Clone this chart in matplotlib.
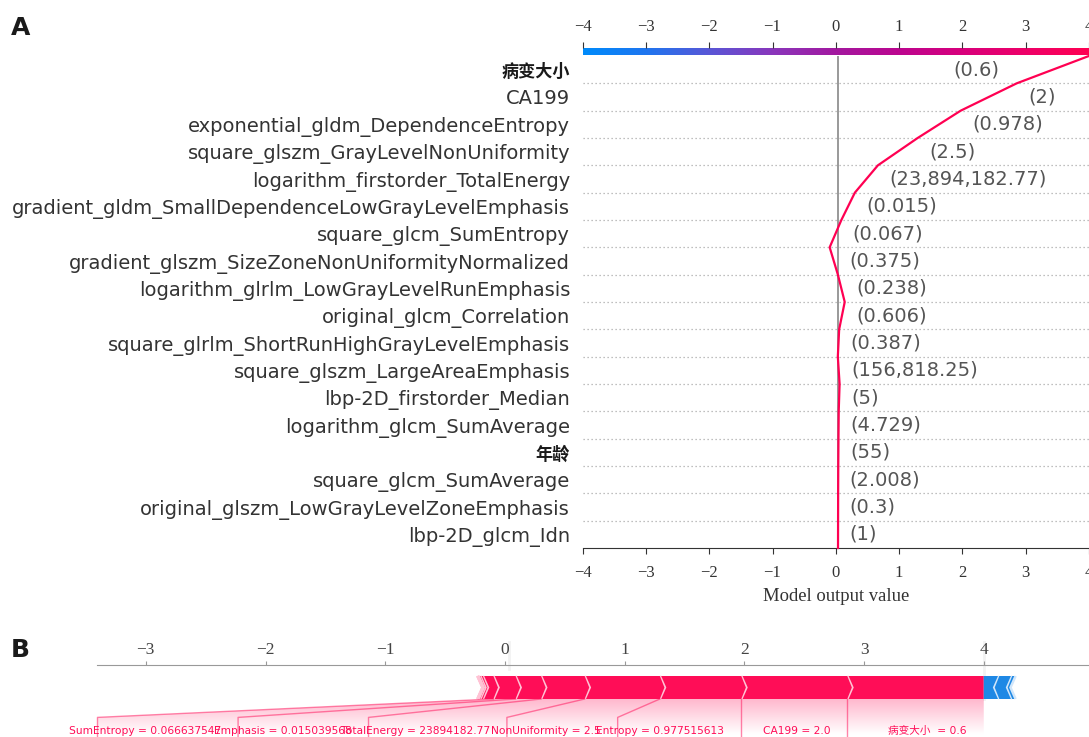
import numpy as np
import matplotlib
matplotlib.use("Agg")
import matplotlib.pyplot as plt
from matplotlib.colors import LinearSegmentedColormap, Normalize
from matplotlib.path import Path
from matplotlib.patches import PathPatch, Polygon
from matplotlib.lines import Line2D
from matplotlib.font_manager import FontProperties
import matplotlib.transforms as mtransforms

# ---------------- data ----------------
feature_names = [
    "病变大小",
    "CA199",
    "exponential_gldm_DependenceEntropy",
    "square_glszm_GrayLevelNonUniformity",
    "logarithm_firstorder_TotalEnergy",
    "gradient_gldm_SmallDependenceLowGrayLevelEmphasis",
    "square_glcm_SumEntropy",
    "gradient_glszm_SizeZoneNonUniformityNormalized",
    "logarithm_glrlm_LowGrayLevelRunEmphasis",
    "original_glcm_Correlation",
    "square_glrlm_ShortRunHighGrayLevelEmphasis",
    "square_glszm_LargeAreaEmphasis",
    "lbp-2D_firstorder_Median",
    "logarithm_glcm_SumAverage",
    "年龄",
    "square_glcm_SumAverage",
    "original_glszm_LowGrayLevelZoneEmphasis",
    "lbp-2D_glcm_Idn",
]
feature_values = [0.6, 2.0, 0.977515613, 2.5, 23894182.77, 0.015039568,
                  0.066637547, 0.375, 0.238, 0.606, 0.387, 156818.25,
                  5, 4.729, 55, 2.008, 0.3, 1]
shap_values = [1.14, 0.885, 0.68, 0.628, 0.364, 0.213, 0.185, -0.13,
               -0.108, 0.088, 0.021, -0.028, 0.014, 0.004, 0.003,
               0.002, 0.001, 0.001]
base_value = 0.035
# names shown under the force bar
force_names = ["病变大小 ", "CA199", "Entropy", "NonUniformity",
               "TotalEnergy", "Emphasis", "SumEntropy"] + feature_names[7:]
decision_ticks = [-4, -3, -2, -1, 0, 1, 2, 3, 4]
force_ticks = [-3, -2, -1, 0, 1, 2, 3, 4]
gradient_colors = ["#008bfb", "#1f75ef", "#5a56d6", "#8a36bb", "#a3189f",
                   "#bc068f", "#d8007c", "#ee0068", "#ff0052"]

# ---------------- figure ----------------
W, H = 1089, 737
fig = plt.figure(figsize=(W / 100, H / 100), dpi=100)
fig.patch.set_facecolor("white")


def box(x0, y0, x1, y1):
    return [x0 / W, 1 - y1 / H, (x1 - x0) / W, (y1 - y0) / H]


serif = "Liberation Serif"
cmap = LinearSegmentedColormap.from_list("rb", gradient_colors)

n = len(feature_names)
shap_arr = np.array(shap_values)
out_value = base_value + shap_arr.sum()
cum = out_value - np.concatenate([[0.0], np.cumsum(shap_arr)])  # top -> bottom
ys = n - np.arange(n + 1)

# ================= A: decision plot =================
axA = fig.add_axes(box(582.6, 56, 1089, 548))
axA.set_xlim(decision_ticks[0], decision_ticks[-1])
axA.set_ylim(0, n)
for k in range(1, n):
    axA.axhline(k, color="#aaaaaa", lw=0.9, ls=(0, (1, 2.2)), zorder=1)
axA.axvline(base_value, color="#999999", lw=1.4, zorder=2)
line_color = cmap(Normalize(decision_ticks[0], decision_ticks[-1])(out_value))
axA.plot(cum, ys, color=line_color, lw=1.6, zorder=3, clip_on=False)

for side in ("left", "right", "top"):
    axA.spines[side].set_visible(False)
axA.spines["bottom"].set_color("#333333")
axA.set_xticks(decision_ticks)
axA.tick_params(axis="x", length=4, color="#333333", labelsize=12,
                labelcolor="#333333", pad=8)
for lab in axA.get_xticklabels():
    lab.set_fontfamily(serif)
axA.set_xlabel("Model output value", fontsize=13.4, family=serif,
               color="#333333", labelpad=5)

axA.set_yticks(n - np.arange(n) - 0.5)
axA.set_yticklabels(feature_names, fontsize=14, color="#333333")
axA.tick_params(axis="y", length=0, pad=9)
cjk = FontProperties(family="Noto Sans CJK SC", size=12.3, weight="bold")
for lab in axA.get_yticklabels():
    if any(ord(c) > 0x2E80 for c in lab.get_text()):
        lab.set_fontproperties(cjk)
        lab.set_color("#1a1a1a")

renderer = fig.canvas.get_renderer()
ax_right = axA.get_window_extent(renderer).x1
for i in range(n):
    lo, hi = sorted((cum[i], cum[i + 1]))
    y = n - i - 0.5
    s = "(" + f"{feature_values[i]:,.3f}".rstrip("0").rstrip(".") + ")"
    tr = mtransforms.offset_copy(axA.transData, fig=fig, x=11.5, units="dots")
    t = axA.text(hi, y, s, ha="left", va="center", fontsize=14,
                 color="#555555", transform=tr, zorder=4)
    if t.get_window_extent(renderer).x1 > ax_right:
        t.set_position((lo, y))
        t.set_ha("right")
        t.set_transform(mtransforms.offset_copy(axA.transData, fig=fig,
                                                x=-17, units="dots"))

# colour bar along the top
axC = fig.add_axes(box(582.6, 47.5, 1089, 55))
axC.imshow(np.linspace(0, 1, 512)[None, :], aspect="auto", cmap=cmap,
           extent=(decision_ticks[0], decision_ticks[-1], 0, 1))
axC.set_xlim(decision_ticks[0], decision_ticks[-1])
axC.set_ylim(0, 1)
axC.xaxis.tick_top()
axC.set_xticks(decision_ticks)
axC.set_yticks([])
for s in axC.spines.values():
    s.set_visible(False)
axC.tick_params(axis="x", length=4, color="#333333", pad=5, labelsize=12,
                labelcolor="#333333")
for lab in axC.get_xticklabels():
    lab.set_fontfamily(serif)

# ================= B: force plot =================
ppu = 119.75          # pixels per unit along x
zero_px = 505.0       # pixel column of x = 0
bar_w = 0.1
y_ppu = 230.0
yl = (-0.5, 0.15)
top_px = 676 - (yl[1] - bar_w) * y_ppu
bot_px = 699 + (0 - yl[0]) * y_ppu

order = np.argsort(-np.abs(shap_arr))
pos_idx = [i for i in order if shap_arr[i] > 0]
neg_idx = [i for i in order if shap_arr[i] < 0]
total_pos = shap_arr[shap_arr > 0].sum()
total_neg = -shap_arr[shap_arr < 0].sum()
total_effect = total_pos + total_neg

axB = fig.add_axes(box(97, top_px, 1120, bot_px))
axB.set_ylim(*yl)

# bars
sep_w = 0.0427
pre = out_value
for j, i in enumerate(pos_idx):
    left, right = pre - shap_arr[i], pre
    pre = left
    if j == 0:
        pts = [[left, 0], [right, 0], [right, bar_w], [left, bar_w],
               [left + sep_w, bar_w / 2]]
    else:
        pts = [[left, 0], [right, 0], [right + sep_w * 0.9, bar_w / 2],
               [right, bar_w], [left, bar_w], [left + sep_w * 0.9, bar_w / 2]]
    axB.add_patch(Polygon(pts, closed=True, facecolor="#FF0D57", lw=0))
    axB.add_patch(Polygon([[left, 0], [left + sep_w, bar_w / 2], [left, bar_w]],
                          closed=False, fill=False, edgecolor="#FFC3D5", lw=1.8))
pos_left = pre
pre = out_value
for j, i in enumerate(neg_idx):
    left, right = pre, pre - shap_arr[i]
    pre = right
    if j == 0:
        pts = [[right, 0], [left, 0], [left, bar_w], [right, bar_w],
               [right - sep_w, bar_w / 2]]
    else:
        pts = [[left, 0], [right, 0], [right - sep_w * 0.9, bar_w / 2],
               [right, bar_w], [left, bar_w], [left - sep_w * 0.9, bar_w / 2]]
    axB.add_patch(Polygon(pts, closed=True, facecolor="#1E88E5", lw=0))
    axB.add_patch(Polygon([[right, 0], [right - sep_w, bar_w / 2], [right, bar_w]],
                          closed=False, fill=False, edgecolor="#D1E6FA", lw=1.8))
neg_right = pre

for xv, y0, y1 in ((base_value, 0.13, 0.25), (out_value, 0.0, 0.25)):
    axB.add_line(Line2D([xv, xv], [y0, y1], lw=2, color="#F2F2F2",
                        clip_on=False, zorder=0))

# labels for the positive contributions
offset_text = 0.142
measure_scale = 0.7
start_text = out_value
pre_val = out_value
box_end = out_value
for i in pos_idx:
    if shap_arr[i] / total_effect < 0.035:
        break
    val = pre_val - shap_arr[i]
    txt = force_names[i] + " = " + str(feature_values[i])
    t = axB.text(start_text - offset_text, -0.15, txt, ha="right",
                 va="baseline", fontsize=7.65, color="#FF0D57",
                 family=["DejaVu Sans", "Noto Sans CJK SC"], clip_on=False)
    w_units = t.get_window_extent(renderer).width / ppu
    box_end_ = start_text - offset_text - measure_scale * w_units
    if box_end_ > val:
        axB.add_line(Line2D([val, val], [0, -0.18], lw=1, alpha=0.5,
                            color="#FF0D57", clip_on=False))
        start_text = val
        box_end = val
    else:
        box_end = box_end_ - offset_text
        axB.add_line(Line2D([val, box_end, box_end], [0, -0.08, -0.18], lw=1,
                            alpha=0.5, color="#FF0D57", clip_on=False))
        start_text = box_end
    pre_val = val

padding = max(total_pos, total_neg) * 0.2
xmin = min(box_end, min(pos_left, base_value) - padding)
xmax = max(neg_right, base_value) + padding

path = Path([[out_value, 0], [pre_val, 0], [box_end, -0.08], [box_end, -0.2],
             [out_value, -0.2], [out_value, 0]])
patch = PathPatch(path, facecolor="none", edgecolor="none")
axB.add_patch(patch)
shade_cmap = LinearSegmentedColormap.from_list(
    "shade", np.array([(255, 13, 87), (255, 255, 255)]) / 255.0)
_, Z2 = np.meshgrid(np.linspace(0, 10), np.linspace(-10, 10))
im = axB.imshow(Z2, interpolation="quadric", cmap=shade_cmap, vmax=0.01,
                alpha=0.3, origin="lower", aspect="auto",
                extent=[out_value, box_end, 0, -0.31])
im.set_clip_path(patch)

axB.set_xlim(xmin, xmax)
axB.set_ylim(*yl)
axB.set_position(box(zero_px + xmin * ppu, top_px, zero_px + xmax * ppu, bot_px))

for key, sp in axB.spines.items():
    sp.set_visible(key == "top")
axB.spines["top"].set_color("#999999")
axB.xaxis.tick_top()
axB.set_xticks(force_ticks)
axB.set_yticks([])
axB.tick_params(axis="x", length=3, color="#999999", pad=2, labelsize=12.5,
                labelcolor="#444444")
for lab in axB.get_xticklabels():
    lab.set_fontfamily(serif)

# panel letters
fig.text(11 / W, 1 - 35 / H, "A", fontsize=18, fontweight="bold",
         family="DejaVu Sans", va="baseline", color="#1a1a1a")
fig.text(11 / W, 1 - 657 / H, "B", fontsize=18, fontweight="bold",
         family="DejaVu Sans", va="baseline", color="#1a1a1a")

fig.savefig("out.png", dpi=100, facecolor="white")
